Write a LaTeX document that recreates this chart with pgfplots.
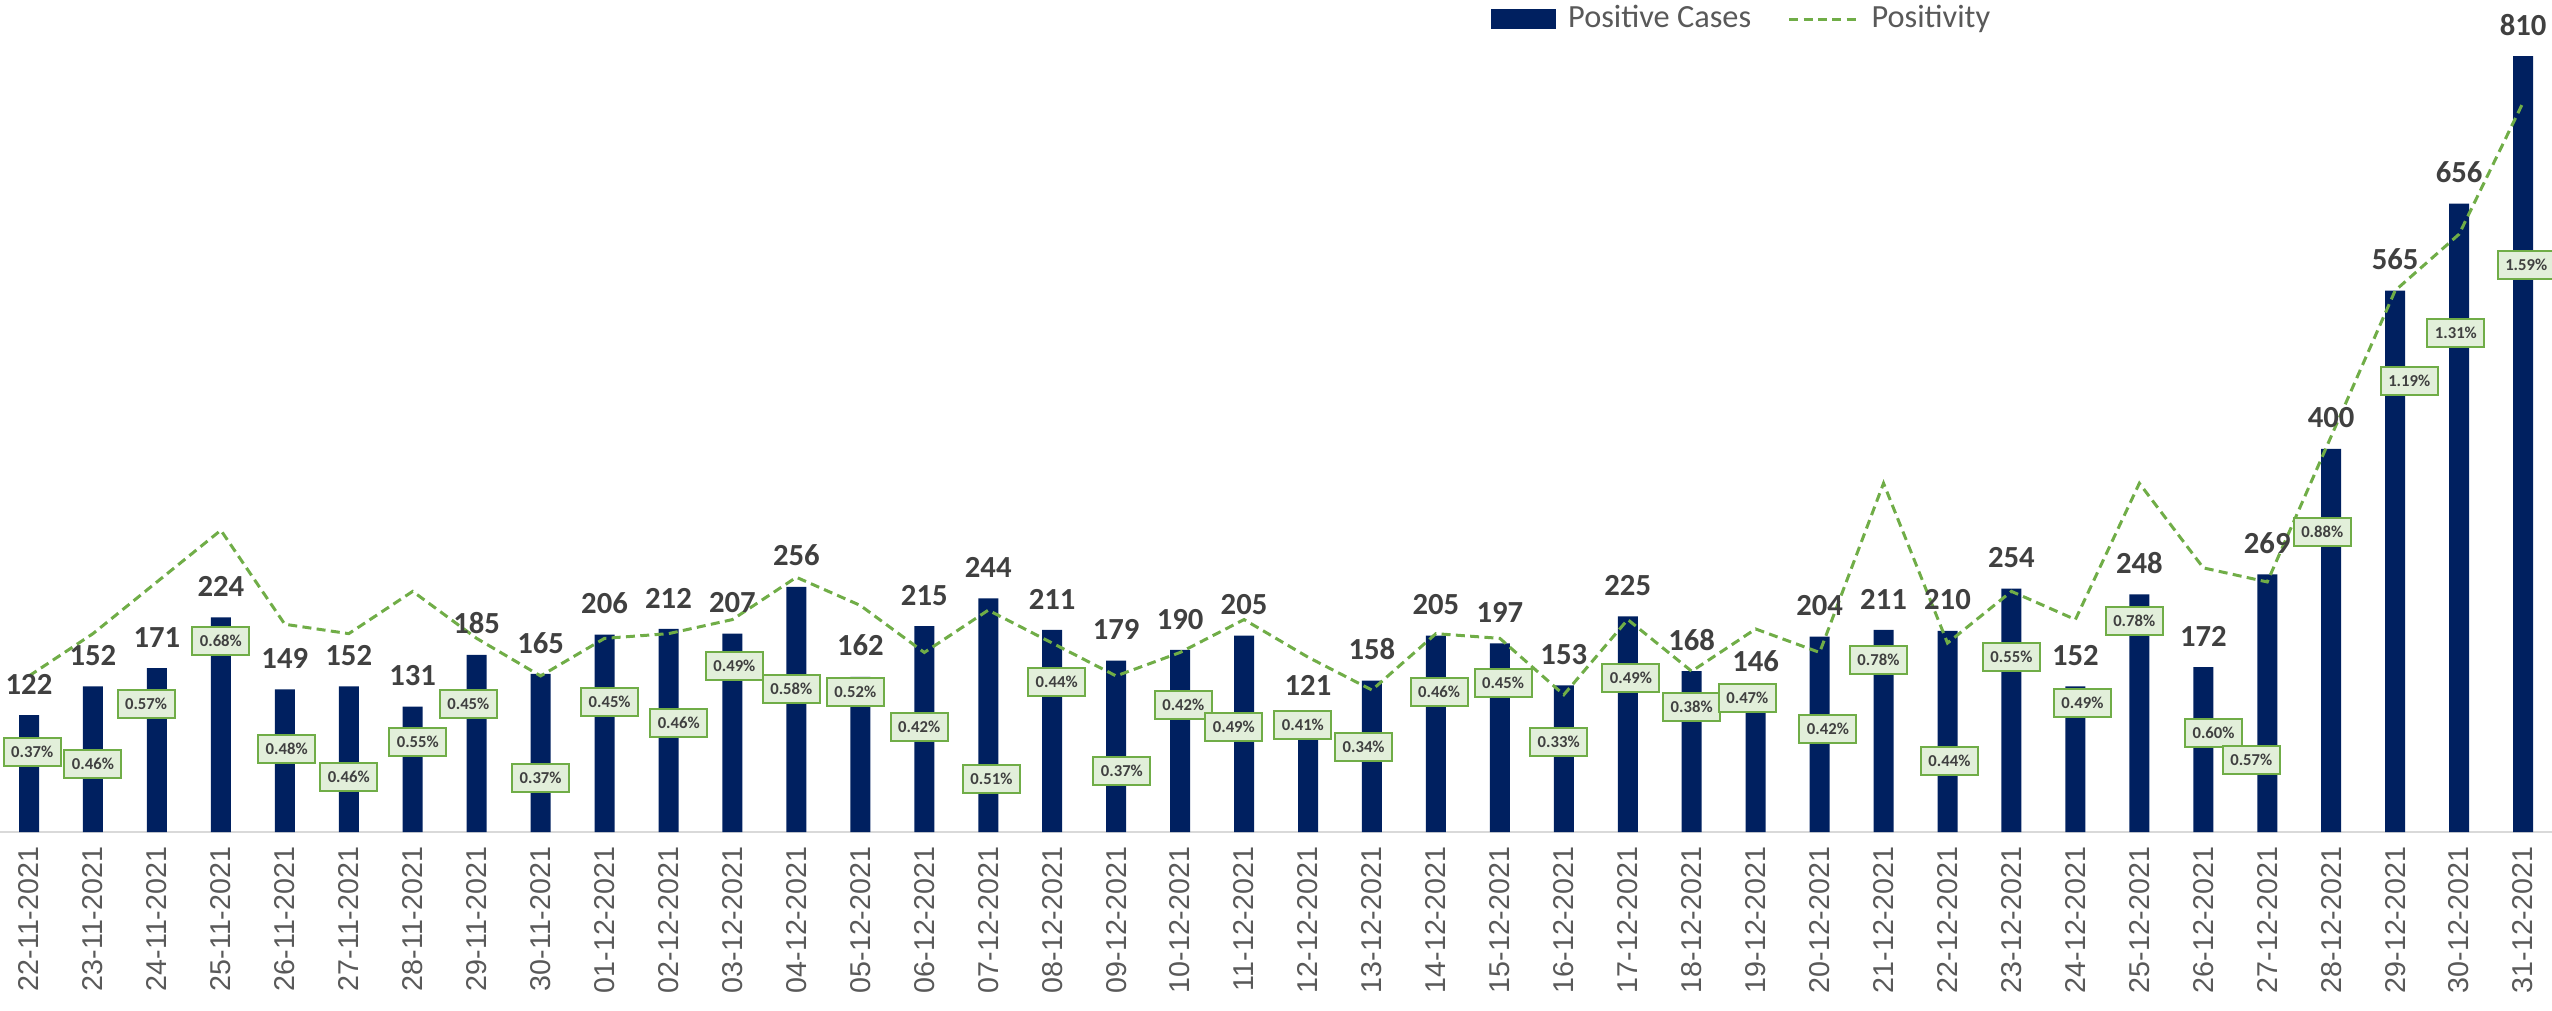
\documentclass[border=0pt]{standalone}
\usepackage{pgfplots}
\pgfplotsset{compat=1.18}
\usepackage{pgfplotstable}
\usepackage{fontspec}
\setmainfont{Carlito}
\newfontfamily\arialf{Liberation Sans}
\definecolor{navy}{HTML}{002060}
\definecolor{linegreen}{HTML}{70AD47}
\definecolor{boxfill}{HTML}{E2EFDA}
\definecolor{darktext}{HTML}{404040}
\definecolor{tickgray}{HTML}{595959}
\definecolor{axisgray}{HTML}{D9D9D9}

% i: category index, cases, p: positivity (%), lx/ly: label box position
\pgfplotstableread{
i cases p lx ly
0 122 0.37 0.05 83.5
1 152 0.46 0 71
2 171 0.57 -0.17 133.6
3 224 0.68 0 199.4
4 149 0.48 0.03 86.6
5 152 0.46 0 57.4
6 131 0.55 0.08 94
7 185 0.45 -0.13 133.6
8 165 0.37 0 56.4
9 206 0.45 0.08 135.7
10 212 0.46 0.16 113.8
11 207 0.49 0.03 173.3
12 256 0.58 -0.08 149.3
13 162 0.52 -0.08 146.1
14 215 0.42 -0.08 109.6
15 244 0.51 0.05 55.3
16 211 0.44 0.07 156.6
17 179 0.37 0.09 63.7
18 190 0.42 0.05 132.6
19 205 0.49 -0.16 109.6
20 121 0.41 -0.08 111.7
21 158 0.34 -0.13 88.7
22 205 0.46 0.05 146.1
23 197 0.45 0.05 155.5
24 153 0.33 -0.08 94
25 225 0.49 0.05 160.8
26 168 0.38 0 130.5
27 146 0.47 -0.13 139.9
28 204 0.42 0.13 107.5
29 211 0.78 -0.08 179.5
30 210 0.44 0.03 74.1
31 254 0.55 0 182.7
32 152 0.49 0.11 134.7
33 248 0.78 -0.08 220.3
34 172 0.60 0.16 103.3
35 269 0.57 -0.25 75.2
36 400 0.88 -0.14 313.2
37 565 1.19 0.22 470.8
38 656 1.31 -0.05 520.9
39 810 1.59 0.05 591.9
}\data

\begin{document}
\begin{tikzpicture}
\pgfplotsset{
  base/.style={
    width=765.6pt, height=245.1pt, scale only axis,
    xmin=-0.4535, xmax=39.453,
    axis y line=none, ytick=\empty,
    clip=false,
    /pgf/number format/assume math mode=true,
  },
}
% primary axis: bars
\begin{axis}[base, ybar, bar width=6pt,
  ymin=0, ymax=852.8,
  axis x line*=bottom,
  x axis line style={draw=axisgray, line width=0.7pt, -},
  xtick={0,...,39},
  major tick length=0pt,
  xticklabels={22-11-2021,23-11-2021,24-11-2021,25-11-2021,26-11-2021,27-11-2021,28-11-2021,29-11-2021,30-11-2021,01-12-2021,02-12-2021,03-12-2021,04-12-2021,05-12-2021,06-12-2021,07-12-2021,08-12-2021,09-12-2021,10-12-2021,11-12-2021,12-12-2021,13-12-2021,14-12-2021,15-12-2021,16-12-2021,17-12-2021,18-12-2021,19-12-2021,20-12-2021,21-12-2021,22-12-2021,23-12-2021,24-12-2021,25-12-2021,26-12-2021,27-12-2021,28-12-2021,29-12-2021,30-12-2021,31-12-2021},
  xticklabel style={rotate=90, anchor=east, inner sep=0pt, text=tickgray,
    font=\arialf\fontsize{8.6}{10}\selectfont},
  xticklabel shift=4.2pt,
]
\addplot[fill=navy, draw=none] table[x=i, y=cases]{\data};
\end{axis}
% secondary axis: positivity line
\begin{axis}[base, axis x line=none, xtick=\empty, ymin=0.038, ymax=1.7763]
\addplot[linegreen, line width=0.9pt, dash pattern=on 2.7pt off 1.6pt, mark=none]
  table[x=i, y=p]{\data};
\end{axis}
% labels and legend (primary units)
\begin{axis}[base, axis x line=none, xtick=\empty, ymin=0, ymax=852.8,
  legend style={at={(0.5842,0.995)}, anchor=west, draw=none, fill=none,
    inner sep=0pt, outer sep=0pt,
    font=\fontsize{9.7}{11}\selectfont, text=tickgray,
    nodes={inner sep=0pt, text=tickgray},
    /tikz/every odd column/.append style={column sep=3.8pt},
    /tikz/every even column/.append style={column sep=11pt}},
  legend columns=2, legend cell align=left,
]
\addlegendimage{legend image code/.code={\fill[navy] (0pt,-2.7pt) rectangle (19pt,2.7pt);}}
\addlegendentry{Positive Cases}
\addlegendimage{legend image code/.code={\draw[linegreen, line width=0.9pt, dash pattern=on 2.7pt off 1.6pt] (0pt,0pt) -- (20.4pt,0pt);}}
\addlegendentry{Positivity}
\addplot[draw=none, mark=none, point meta=y, nodes near coords,
  every node near coord/.append style={anchor=south, inner sep=0pt, yshift=6pt,
    text=darktext, font=\bfseries\fontsize{9.2}{11}\selectfont}]
  table[x=i, y=cases]{\data};
\addplot[draw=none, mark=none, point meta=explicit,
  nodes near coords={\pgfmathprintnumber[fixed, precision=2, fixed zerofill, assume math mode=true]{\pgfplotspointmeta}\%},
  every node near coord/.append style={anchor=center, inner sep=0pt,
    draw=linegreen, line width=0.6pt, fill=boxfill,
    minimum width=17.1pt, minimum height=8.4pt,
    text=darktext, font=\bfseries\fontsize{5}{6}\selectfont}]
  table[x expr=\thisrow{i}+\thisrow{lx}, y=ly, meta=p]{\data};
\end{axis}
\pgfresetboundingbox
\path[use as bounding box] (0pt,-53.4pt) rectangle (765.6pt,249.6pt);
\end{tikzpicture}
\end{document}
